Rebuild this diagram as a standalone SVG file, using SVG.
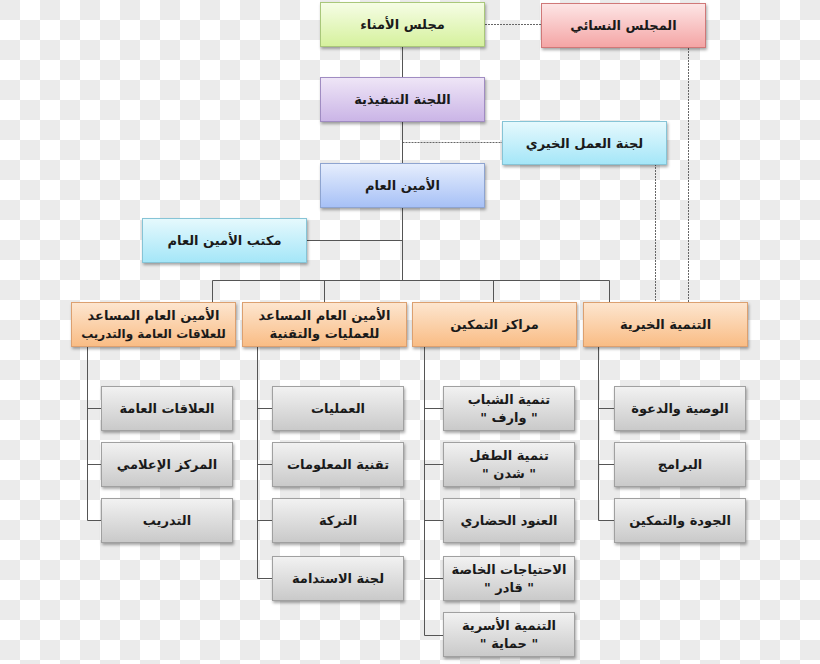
<svg xmlns="http://www.w3.org/2000/svg" width="820" height="664" viewBox="0 0 820 664">
<defs>
<pattern id="chk" width="40" height="40" patternUnits="userSpaceOnUse">
<rect width="40" height="40" fill="#ffffff"/>
<rect width="20" height="20" fill="#ebebeb"/>
<rect x="20" y="20" width="20" height="20" fill="#ebebeb"/>
</pattern>
<linearGradient id="gGreen" x1="0" y1="0" x2="0" y2="1"><stop offset="0" stop-color="#f6fde6"/><stop offset="1" stop-color="#d5f19c"/></linearGradient>
<linearGradient id="gPink" x1="0" y1="0" x2="0" y2="1"><stop offset="0" stop-color="#fde6e6"/><stop offset="1" stop-color="#f4a4a4"/></linearGradient>
<linearGradient id="gPurple" x1="0" y1="0" x2="0" y2="1"><stop offset="0" stop-color="#efe6f7"/><stop offset="1" stop-color="#cab4e6"/></linearGradient>
<linearGradient id="gBlue" x1="0" y1="0" x2="0" y2="1"><stop offset="0" stop-color="#e6eefd"/><stop offset="1" stop-color="#a6c0f6"/></linearGradient>
<linearGradient id="gCyan" x1="0" y1="0" x2="0" y2="1"><stop offset="0" stop-color="#e6f9fd"/><stop offset="1" stop-color="#a4e6f8"/></linearGradient>
<linearGradient id="gOrange" x1="0" y1="0" x2="0" y2="1"><stop offset="0" stop-color="#fde6d0"/><stop offset="1" stop-color="#f9bc84"/></linearGradient>
<linearGradient id="gGray" x1="0" y1="0" x2="0" y2="1"><stop offset="0" stop-color="#f2f2f2"/><stop offset="1" stop-color="#c9c9c9"/></linearGradient>
<filter id="sh" x="-10%" y="-20%" width="125%" height="150%">
<feDropShadow dx="1" dy="2" stdDeviation="1.5" flood-color="#000" flood-opacity="0.35"/>
</filter>
</defs>
<style>
.box{stroke-width:1;filter:url(#sh)}
.green{fill:url(#gGreen);stroke:#a9c77a}
.pink{fill:url(#gPink);stroke:#d07878}
.purple{fill:url(#gPurple);stroke:#a08cc2}
.blue{fill:url(#gBlue);stroke:#8ea4d0}
.cyan{fill:url(#gCyan);stroke:#86c4d6}
.orange{fill:url(#gOrange);stroke:#dca070}
.gray{fill:url(#gGray);stroke:#a0a0a0}
text{font-family:"DejaVu Sans","Noto Sans",sans-serif;font-weight:bold;font-size:13px;fill:#1a1a1a;text-anchor:middle;direction:rtl}
.sm{font-size:12px}
.solid{stroke:#555;stroke-width:1;fill:none}
.dot{stroke:#666;stroke-width:1;stroke-dasharray:2 1;fill:none}
</style>
<rect width="820" height="664" fill="url(#chk)"/>
<g id="connectors">
<line class="dot" x1="485" y1="24.5" x2="541" y2="24.5"/>
<line class="dot" x1="688.5" y1="48" x2="688.5" y2="302"/>
<line class="dot" x1="402.5" y1="142.5" x2="502" y2="142.5"/>
<line class="dot" x1="655.5" y1="164" x2="655.5" y2="302"/>
<line class="solid" x1="402.5" y1="47" x2="402.5" y2="280.5"/>
<line class="solid" x1="306" y1="240.5" x2="402.5" y2="240.5"/>
<polyline class="solid" points="212.5,302 212.5,280.5 609.5,280.5 609.5,302"/>
<line class="solid" x1="324.5" y1="280.5" x2="324.5" y2="302"/>
<line class="solid" x1="493.5" y1="280.5" x2="493.5" y2="302"/>
<polyline class="solid" points="87.5,347 87.5,520.5 101,520.5"/>
<line class="solid" x1="87.5" y1="408.5" x2="101" y2="408.5"/>
<line class="solid" x1="87.5" y1="464.5" x2="101" y2="464.5"/>
<polyline class="solid" points="257.5,347 257.5,578.5 272,578.5"/>
<line class="solid" x1="257.5" y1="408.5" x2="272" y2="408.5"/>
<line class="solid" x1="257.5" y1="464.5" x2="272" y2="464.5"/>
<line class="solid" x1="257.5" y1="520.5" x2="272" y2="520.5"/>
<polyline class="solid" points="424.5,347 424.5,635.5 443,635.5"/>
<line class="solid" x1="424.5" y1="408.5" x2="443" y2="408.5"/>
<line class="solid" x1="424.5" y1="464.5" x2="443" y2="464.5"/>
<line class="solid" x1="424.5" y1="520.5" x2="443" y2="520.5"/>
<line class="solid" x1="424.5" y1="578.5" x2="443" y2="578.5"/>
<polyline class="solid" points="598.5,347 598.5,520.5 614,520.5"/>
<line class="solid" x1="598.5" y1="408.5" x2="614" y2="408.5"/>
<line class="solid" x1="598.5" y1="464.5" x2="614" y2="464.5"/>
</g>
<g id="board"><rect class="box green" x="320.5" y="2.5" width="164" height="44"/><text x="402.5" y="29">مجلس الأمناء</text></g>
<g id="women"><rect class="box pink" x="541.5" y="3.5" width="164" height="44"/><text x="623.5" y="30">المجلس النسائي</text></g>
<g id="exec"><rect class="box purple" x="320.5" y="77.5" width="164" height="44"/><text x="402.5" y="104">اللجنة التنفيذية</text></g>
<g id="charity"><rect class="box cyan" x="502.5" y="121.5" width="164" height="43"/><text x="584.5" y="148">لجنة العمل الخيري</text></g>
<g id="sg"><rect class="box blue" x="320.5" y="163.5" width="164" height="44"/><text x="402.5" y="190">الأمين العام</text></g>
<g id="sgoffice"><rect class="box cyan" x="142.5" y="218.5" width="164" height="44"/><text x="224.5" y="245">مكتب الأمين العام</text></g>
<g id="asg-pr"><rect class="box orange" x="71.5" y="302.5" width="164" height="44"/><text x="153.5" y="320">الأمين العام المساعد</text><text class="sm" x="153.5" y="338">للعلاقات العامة والتدريب</text></g>
<g id="asg-ops"><rect class="box orange" x="242.5" y="302.5" width="164" height="44"/><text x="324.5" y="320">الأمين العام المساعد</text><text x="324.5" y="338">للعمليات والتقنية</text></g>
<g id="centers"><rect class="box orange" x="412.5" y="302.5" width="164" height="44"/><text x="494.5" y="329">مراكز التمكين</text></g>
<g id="dev"><rect class="box orange" x="583.5" y="302.5" width="164" height="44"/><text x="665.5" y="329">التنمية الخيرية</text></g>
<g id="pr"><rect class="box gray" x="101.5" y="386.5" width="131" height="44"/><text x="167" y="413">العلاقات العامة</text></g>
<g id="media"><rect class="box gray" x="101.5" y="442.5" width="131" height="44"/><text x="167" y="469">المركز الإعلامي</text></g>
<g id="training"><rect class="box gray" x="101.5" y="498.5" width="131" height="44"/><text x="167" y="525">التدريب</text></g>
<g id="ops"><rect class="box gray" x="272.5" y="386.5" width="131" height="44"/><text x="338" y="413">العمليات</text></g>
<g id="it"><rect class="box gray" x="272.5" y="442.5" width="131" height="44"/><text x="338" y="469">تقنية المعلومات</text></g>
<g id="estate"><rect class="box gray" x="272.5" y="498.5" width="131" height="44"/><text x="338" y="525">التركة</text></g>
<g id="sustain"><rect class="box gray" x="272.5" y="556.5" width="131" height="44"/><text x="338" y="583">لجنة الاستدامة</text></g>
<g id="youth"><rect class="box gray" x="443.5" y="386.5" width="131" height="44"/><text x="509" y="404">تنمية الشباب</text><text x="509" y="422">" وارف "</text></g>
<g id="child"><rect class="box gray" x="443.5" y="442.5" width="131" height="44"/><text x="509" y="460">تنمية الطفل</text><text x="509" y="478">" شدن "</text></g>
<g id="anood"><rect class="box gray" x="443.5" y="498.5" width="131" height="44"/><text x="509" y="525">العنود الحضاري</text></g>
<g id="special"><rect class="box gray" x="443.5" y="556.5" width="131" height="44"/><text x="509" y="574">الاحتياجات الخاصة</text><text x="509" y="592">" قادر "</text></g>
<g id="family"><rect class="box gray" x="443.5" y="612.5" width="131" height="44"/><text x="509" y="630">التنمية الأسرية</text><text x="509" y="648">" حماية "</text></g>
<g id="dawah"><rect class="box gray" x="614.5" y="386.5" width="131" height="44"/><text x="680" y="413">الوصية والدعوة</text></g>
<g id="programs"><rect class="box gray" x="614.5" y="442.5" width="131" height="44"/><text x="680" y="469">البرامج</text></g>
<g id="quality"><rect class="box gray" x="614.5" y="498.5" width="131" height="44"/><text x="680" y="525">الجودة والتمكين</text></g>
</svg>
